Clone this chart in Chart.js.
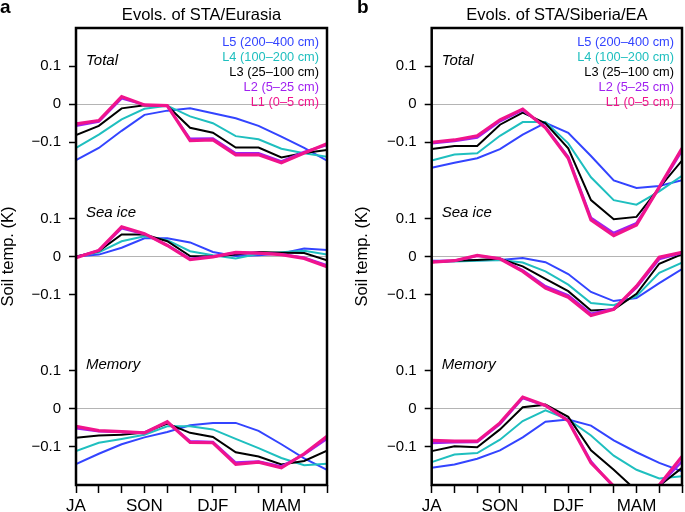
<!DOCTYPE html>
<html lang="en">
<head>
<meta charset="UTF-8">
<title>Evols. of STA</title>
<style>
    body { margin: 0; background: #fff; }
    .panel { position: absolute; top: 0; height: 512px; }
    #panelA { left: 0; width: 342px; }
    #panelB { left: 342px; width: 343px; }
</style>
</head>
<body>
<div class="panel" id="panelA"><canvas id="chartA"></canvas></div>
<div class="panel" id="panelB"><canvas id="chartB"></canvas></div>

<script src="https://cdn.jsdelivr.net/npm/chart.js"></script>
<script>
    // x categories (12 steps), only four carry a label
    const xTickLabels = ['JA', '', '', 'SON', '', '', 'DJF', '', '', 'MAM', '', ''];

    const layerLabels = ['L1 (0–5 cm)', 'L2 (5–25 cm)', 'L3 (25–100 cm)', 'L4 (100–200 cm)', 'L5 (200–400 cm)'];
    const sectionNames = ['Total', 'Sea ice', 'Memory'];
    // each section is drawn shifted on one shared y axis
    const sectionOffsets = [0.4, 0, -0.4];
    const sectionTickValues = [-0.1, 0, 0.1];
    const sectionTickLabels = ['\u22120.1', '0', '0.1'];

    // panel a: Eurasia, rows are L1..L5
    const eurasiaTotal = [
        [-0.052, -0.043, 0.020, -0.002, -0.004, -0.096, -0.094, -0.133, -0.133, -0.154, -0.128, -0.104],
        [-0.057, -0.046, 0.015, -0.002, -0.005, -0.091, -0.090, -0.129, -0.129, -0.150, -0.125, -0.107],
        [-0.081, -0.057, -0.011, -0.003, -0.004, -0.062, -0.075, -0.114, -0.114, -0.140, -0.128, -0.120],
        [-0.115, -0.080, -0.040, -0.012, -0.004, -0.032, -0.050, -0.084, -0.092, -0.117, -0.129, -0.138],
        [-0.147, -0.115, -0.070, -0.028, -0.017, -0.011, -0.024, -0.037, -0.057, -0.085, -0.115, -0.148]
    ];
    const eurasiaSeaIce = [
        [-0.003, 0.016, 0.078, 0.060, 0.029, -0.008, -0.001, 0.011, 0.009, 0.005, -0.005, -0.027],
        [-0.002, 0.016, 0.074, 0.059, 0.030, -0.006, 0.000, 0.010, 0.009, 0.006, -0.003, -0.023],
        [0.000, 0.014, 0.058, 0.058, 0.040, 0.001, 0.000, 0.005, 0.012, 0.010, 0.009, -0.010],
        [0.000, 0.011, 0.040, 0.053, 0.043, 0.014, 0.003, -0.005, 0.007, 0.011, 0.015, 0.005],
        [0.000, 0.005, 0.023, 0.048, 0.048, 0.037, 0.012, 0.001, 0.003, 0.008, 0.021, 0.017]
    ];
    const eurasiaMemory = [
        [-0.046, -0.057, -0.060, -0.063, -0.034, -0.088, -0.089, -0.146, -0.140, -0.155, -0.118, -0.072],
        [-0.051, -0.059, -0.061, -0.062, -0.035, -0.085, -0.087, -0.141, -0.138, -0.151, -0.120, -0.079],
        [-0.076, -0.070, -0.068, -0.062, -0.039, -0.063, -0.074, -0.114, -0.125, -0.146, -0.137, -0.110],
        [-0.111, -0.089, -0.079, -0.068, -0.046, -0.046, -0.054, -0.079, -0.103, -0.129, -0.148, -0.144],
        [-0.145, -0.118, -0.093, -0.075, -0.061, -0.043, -0.037, -0.037, -0.058, -0.093, -0.130, -0.160]
    ];

    // panel b: Siberia/EA
    const siberiaTotal = [
        [-0.100, -0.094, -0.083, -0.041, -0.013, -0.062, -0.142, -0.304, -0.345, -0.317, -0.218, -0.116],
        [-0.103, -0.097, -0.088, -0.045, -0.016, -0.060, -0.138, -0.298, -0.338, -0.312, -0.220, -0.122],
        [-0.118, -0.110, -0.110, -0.054, -0.022, -0.050, -0.116, -0.252, -0.302, -0.296, -0.220, -0.148],
        [-0.148, -0.132, -0.129, -0.083, -0.047, -0.047, -0.103, -0.192, -0.252, -0.264, -0.229, -0.188],
        [-0.167, -0.154, -0.142, -0.118, -0.080, -0.049, -0.075, -0.136, -0.200, -0.220, -0.215, -0.200]
    ];
    const siberiaSeaIce = [
        [-0.015, -0.011, 0.003, -0.006, -0.039, -0.083, -0.107, -0.155, -0.139, -0.078, -0.002, 0.011],
        [-0.013, -0.011, 0.002, -0.006, -0.036, -0.078, -0.102, -0.150, -0.137, -0.082, -0.007, 0.009],
        [-0.015, -0.011, -0.009, -0.006, -0.026, -0.059, -0.091, -0.142, -0.139, -0.098, -0.019, 0.006],
        [-0.013, -0.013, -0.011, -0.009, -0.016, -0.039, -0.074, -0.122, -0.128, -0.104, -0.043, -0.016],
        [-0.011, -0.011, -0.010, -0.009, -0.004, -0.015, -0.046, -0.093, -0.117, -0.109, -0.070, -0.033]
    ];
    const siberiaMemory = [
        [-0.083, -0.085, -0.085, -0.037, 0.031, 0.009, -0.032, -0.142, -0.203, -0.235, -0.200, -0.125],
        [-0.090, -0.088, -0.087, -0.040, 0.028, 0.008, -0.030, -0.138, -0.206, -0.230, -0.201, -0.138],
        [-0.111, -0.098, -0.101, -0.054, 0.004, 0.011, -0.021, -0.109, -0.160, -0.215, -0.202, -0.155],
        [-0.140, -0.120, -0.116, -0.081, -0.032, -0.004, -0.028, -0.070, -0.123, -0.160, -0.183, -0.177],
        [-0.155, -0.146, -0.131, -0.109, -0.075, -0.034, -0.028, -0.044, -0.083, -0.114, -0.142, -0.164]
    ];

    const FONT = "'Liberation Sans', Arial, sans-serif";
    const layerColors = ['#f0148c', '#a020f0', '#000000', '#1fbfbf', '#3344ff'];
    const layerWidths = [3.2, 2.4, 2, 2, 2];

    const yTicks = sectionOffsets.flatMap(o => sectionTickValues.map(t => o + t));

    function labelFor(v) {
        for (let s = 0; s < sectionOffsets.length; s++) {
            const rel = v - sectionOffsets[s];
            const i = sectionTickValues.findIndex(t => Math.abs(t - rel) < 1e-6);
            if (i >= 0) return sectionTickLabels[i];
        }
        return '';
    }

    function buildDatasets(sections) {
        const datasets = [];
        sections.forEach((sec, s) => {
            sec.forEach((values, l) => {
                datasets.push({
                    label: layerLabels[l],
                    data: values.map(v => v + sectionOffsets[s]),
                    borderColor: layerColors[l],
                    backgroundColor: layerColors[l],
                    borderWidth: layerWidths[l],
                    pointRadius: 0,
                    tension: 0,
                    clip: 0,
                    order: l
                });
            });
        });
        return datasets;
    }

    // frame, panel letter, section names and the text legend
    const panelDecor = {
        id: 'panelDecor',
        afterDraw(chart, args, opts) {
            const { ctx, chartArea: a } = chart;
            const y = chart.scales.y;
            ctx.save();
            ctx.strokeStyle = '#000';
            ctx.lineWidth = 2.5;
            ctx.strokeRect(a.left, a.top, a.right - a.left, a.bottom - a.top);

            ctx.fillStyle = '#000';
            ctx.textAlign = 'left';
            ctx.textBaseline = 'alphabetic';
            ctx.font = `bold 19px ${FONT}`;
            ctx.fillText(opts.letter, opts.letterX, 13);

            ctx.font = `italic 15px ${FONT}`;
            ctx.textBaseline = 'middle';
            sectionNames.forEach((name, s) => {
                ctx.fillText(name, a.left + 10, y.getPixelForValue(sectionOffsets[s] + 0.115));
            });

            ctx.font = `12.8px ${FONT}`;
            ctx.textAlign = 'right';
            for (let l = layerLabels.length - 1, row = 0; l >= 0; l--, row++) {
                ctx.fillStyle = layerColors[l];
                ctx.fillText(layerLabels[l], a.right - 8, a.top + 14 + row * 15.2);
            }
            ctx.restore();
        }
    };

    function makeChart(id, title, sections, padLeft, yWidth, padRight, letter, letterX) {
        return new Chart(document.getElementById(id), {
            type: 'line',
            data: { labels: xTickLabels, datasets: buildDatasets(sections) },
            options: {
                responsive: true,
                maintainAspectRatio: false,
                animation: false,
                layout: { padding: { left: padLeft, right: padRight, top: 0, bottom: 0 } },
                plugins: {
                    legend: { display: false },
                    tooltip: { enabled: false },
                    title: {
                        display: true,
                        text: title,
                        fullSize: false,
                        color: '#000',
                        font: { family: FONT, size: 16.5, weight: 'normal', lineHeight: 1.2 },
                        padding: { top: 6, bottom: 2.2 }
                    },
                    panelDecor: { letter: letter, letterX: letterX }
                },
                scales: {
                    x: {
                        ticks: { autoSkip: false, maxRotation: 0, color: '#000', font: { family: FONT, size: 17 }, padding: 3 },
                        grid: { drawOnChartArea: false, tickLength: 8, tickColor: '#000', tickWidth: 1.5 },
                        border: { display: false },
                        afterFit: s => { s.height = 27; }
                    },
                    y: {
                        min: -0.6,
                        max: 0.6,
                        afterBuildTicks: s => { s.ticks = yTicks.map(v => ({ value: v })); },
                        ticks: {
                            autoSkip: false,
                            color: '#000',
                            font: { family: FONT, size: 15 },
                            padding: 8,
                            callback: v => labelFor(v)
                        },
                        grid: {
                            color: c => sectionOffsets.some(o => Math.abs(c.tick.value - o) < 1e-6) ? '#b4b4b4' : 'rgba(0,0,0,0)',
                            lineWidth: 1,
                            tickLength: 7,
                            tickColor: '#000',
                            tickWidth: 1.5
                        },
                        border: { display: false },
                        title: { display: true, text: 'Soil temp. (K)', color: '#000', font: { family: FONT, size: 16.5, lineHeight: 1 }, padding: 0 },
                        afterFit: s => { s.width = yWidth; }
                    }
                }
            },
            plugins: [panelDecor]
        });
    }

    makeChart('chartA', 'Evols. of STA/Eurasia', [eurasiaTotal, eurasiaSeaIce, eurasiaMemory], 0, 76, 15, 'a', 0);
    makeChart('chartB', 'Evols. of STA/Siberia/EA', [siberiaTotal, siberiaSeaIce, siberiaMemory], 12, 77.7, 1.5, 'b', 15);
</script>
</body>
</html>
